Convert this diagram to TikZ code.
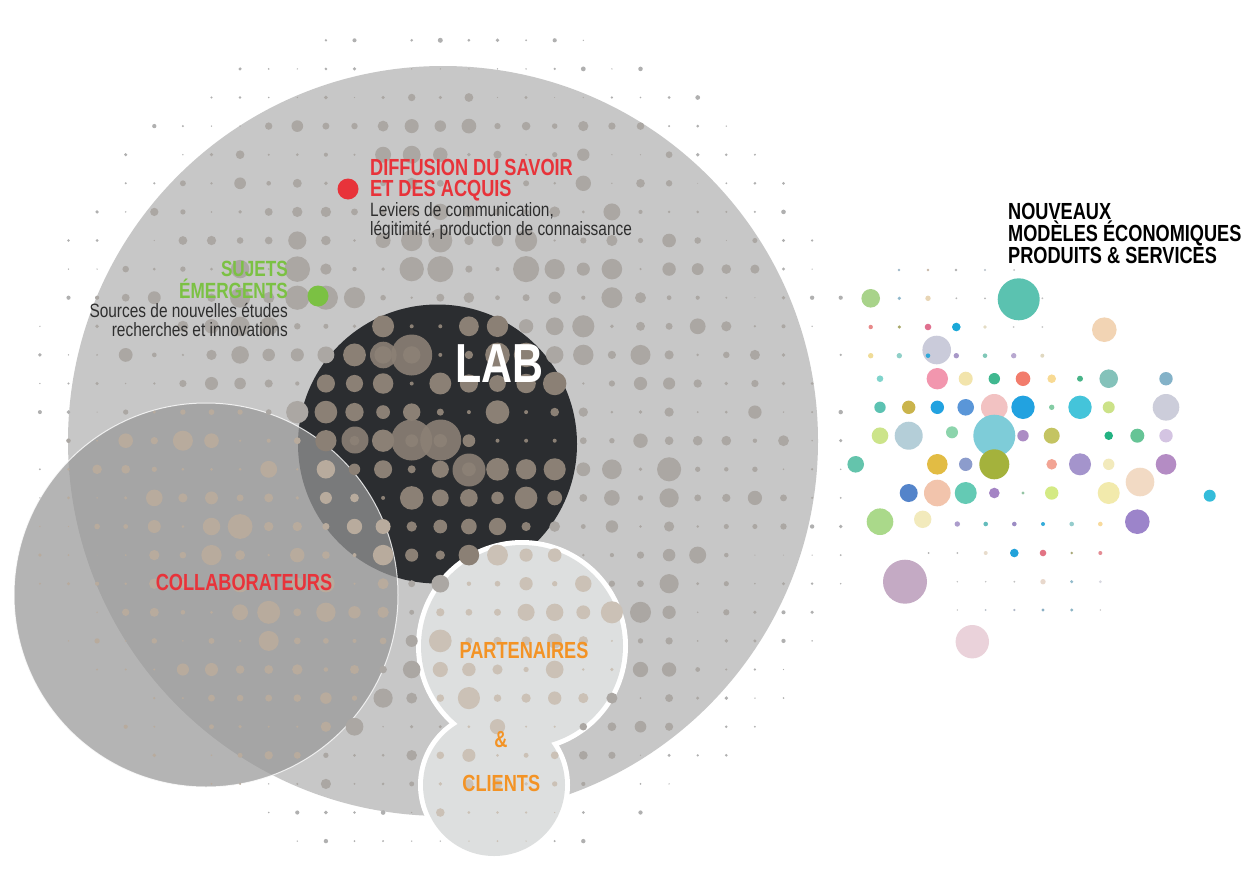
\documentclass[tikz,border=0pt]{standalone}
\usepackage{fontspec}
\setmainfont{Liberation Sans}
\newfontfamily\condbold[FakeStretch=0.78]{Liberation Sans}
\newfontfamily\condreg[FakeStretch=0.80]{Liberation Sans}
\definecolor{biggray}{HTML}{C7C7C7}
\definecolor{labdark}{HTML}{2B2D30}
\definecolor{collabfill}{HTML}{989898}
\definecolor{partfill}{HTML}{DDDFDF}
\definecolor{dotout}{HTML}{B0B0B0}
\definecolor{dotgray}{HTML}{ABA7A3}
\definecolor{dotlab}{HTML}{8B8075}
\definecolor{dotcollab}{HTML}{B8AB9D}
\definecolor{dotpart}{HTML}{CBC1B6}
\definecolor{tred}{HTML}{E8333A}
\definecolor{tgreen}{HTML}{7BC143}
\definecolor{torange}{HTML}{F39325}
\definecolor{tdark}{HTML}{2E2E2E}
\tikzset{
  hb/.style={font={\condbold\bfseries\fontsize{23.3}{26}\selectfont}, inner sep=0pt},
  hbg/.style={font={\condbold\bfseries\fontsize{22}{26}\selectfont}, inner sep=0pt},
  hr/.style={font={\condreg\fontsize{19.3}{22}\selectfont}, text=tdark, inner sep=0pt},
  labtext/.style={font={\condbold\bfseries\fontsize{55}{60}\selectfont}, text=white, inner sep=0pt, anchor=base west}
}
\begin{document}
\begin{tikzpicture}[x=1pt,y=-1pt]
\useasboundingbox (0,0) rectangle (1244,870);
\fill[white] (0,0) rectangle (1244,870);
% main circles
\fill[biggray] (443,441) circle (375);
\fill[labdark] (437.5,444) circle (139.5);
\fill[collabfill, fill opacity=0.72] (206,595) circle (192);
\draw[white, line width=1, opacity=0.8] (206,595) circle (192);
% partenaires & clients
\fill[white] (522,646) circle (106);
\fill[white] (494,785) circle (76);
\fill[partfill] (522,646) circle (101);
\fill[partfill] (494,785) circle (71);
% dot grid
\pgfmathsetseed{7}
\foreach \i in {0,...,29}{%
 \foreach \j in {1,...,29}{%
  \pgfmathsetmacro\px{11.3+28.6*\i}%
  \pgfmathsetmacro\py{11.7+28.6*\j}%
  \pgfmathsetmacro\dL{100*veclen((\px-437.5)/100,(\py-444)/100)}%
  \pgfmathsetmacro\dB{100*veclen((\px-443)/100,(\py-441)/100)}%
  \pgfmathsetmacro\dC{100*veclen((\px-206)/100,(\py-595)/100)}%
  \pgfmathsetmacro\dPa{100*veclen((\px-522)/100,(\py-646)/100)}%
  \pgfmathsetmacro\dPb{100*veclen((\px-494)/100,(\py-785)/100)}%
  \pgfmathsetmacro\dotu{rnd}%
  \pgfmathsetmacro\dotv{rnd}%
  \pgfmathsetmacro\dotf{min(1,max(0.3,1-(\dL-220)/230))}%
  \pgfmathsetmacro\dotr{\dL<140 ? (\dotv<0.1 ? 2 : 3+10*\dotu) : (\dB<372 ? (1.2+12*\dotu*sqrt(\dotu))*\dotf : ((\dB<430 && \dotv>0.15) ? 0.7+2.0*\dotu*\dotu : 0))}%
  \pgfmathtruncatemacro\reg{(\dPa<101 || \dPb<71) ? 4 : (\dC<192 ? 3 : (\dL<139.5 ? 2 : (\dB<375 ? 1 : 0)))}%
  \ifcase\reg\relax \def\dcol{dotout}\or \def\dcol{dotgray}\or \def\dcol{dotlab}\or \def\dcol{dotcollab}\or \def\dcol{dotpart}\fi
  \ifdim\dotr pt>0.4pt \fill[\dcol] (\px,\py) circle (\dotr);\fi
 }}
% a few large dots in the lab
\foreach \x/\y/\rr in {411.7/355/20.5, 411.7/440/20.5, 440.7/440/20.5, 469/470/16.5, 383.3/355/13.3, 355/440/13.5}{
  \fill[dotlab, fill opacity=0.9] (\x,\y) circle (\rr);
}
% coloured cluster
\foreach \x/\y/\rr/\c in {
899/270/1.3/A0B8C8, 928/270/1.3/C8B8A8, 956/270/1.3/B0B0B0, 985/270/1.2/B8C0C8, 1014/270/1/C0C0C0,
870.7/298.3/9.3/A8D38A, 899.3/298.3/1.8/8FB8CC, 928/298.3/2.7/E8D5B5, 956.3/298.3/1/B8B8B8, 985/298.3/1/B8B8B8,
1018.7/299.3/21/5BC2B0, 1042.3/298.3/1/C0C0C0,
870.7/327/2.2/E88A8A, 899.3/327/1.7/A8A868, 928/327/3.3/E0708F, 956.3/327/4.3/1AA8D8, 985/327/1.8/E4DCC4,
1013.7/327/1/C8C8C8, 1042.3/327/1/C8C8C8, 1104.3/329.7/12.3/F2D4B4,
870.7/355.7/2.7/F0DC98, 899.3/355.7/2.7/90D0C8, 936.7/350/14.3/CACBDA, 928/355.7/2.3/30A8D8, 956.3/355.7/2.7/A898C8,
985/355.7/2.3/80C8B8, 1013.7/355.7/2.7/B8A8D0, 1042.3/355.7/2/E0D8C0,
880/378.7/3.3/80D4CC, 937.3/378.7/10.7/F296AE, 965.7/378.7/7/F2E4AC, 994.3/378.7/5.7/40B890, 1023/378.7/7.3/F27C6C,
1051.7/378.7/4.3/F8DA94, 1080/378.7/3/48B488, 1108.7/378.7/9.3/84C2BA, 1166/378.7/6.7/84B2C8,
880/407.3/5.7/5CC2B2, 908.7/407.3/6.7/CAB44C, 937.3/407.3/6.7/22A2E0, 965.7/407.3/8.3/5A96D8, 994.3/407.3/13.3/F2C2C2,
1023/407.3/11.7/22A2E0, 1051.7/407.3/2.7/84CCA4, 1080/407.3/11.7/44C4DA, 1108.7/407.3/6/CCE288, 1166/407.3/13.3/CCCDDA,
880/435.7/8.3/CCE48A, 908.7/435.7/14/B4CED8, 952/432.3/6/8CD4AC, 994.3/435.7/21/7ECCD8, 1023/435.7/5.7/AC8CC4,
1051.7/435.7/8/C4C462, 1108.7/435.7/4.3/22B282, 1137.3/435.7/7/66C496, 1166/435.7/6.7/D4C4E2,
855.7/464.3/8.3/64C4AC, 937.3/464.3/10.3/E2BC44, 965.7/464.3/6.7/8C9CCC, 994.3/464.3/15/A4B23C, 1051.7/464.3/5.3/F2A494,
1080/464.3/11/A494CC, 1108.7/464.3/5.7/F2EABC, 1166/464.3/10.3/B48CC4,
908.7/493/9/5484CA, 937.3/493/13.3/F2C4AC, 965.7/493/11/64CAB4, 994.3/493/5.3/A484C4, 1023/493/1.7/94C4A4,
1051.7/493/6.7/D4EA84, 1108.7/493/11/F2EAAC, 1140/482/14.3/F2DAC4, 1209.7/495.7/6/34BCDA,
880/521.7/13.3/AAD98A, 922.7/519.3/8.7/F2EABC, 957.3/524/2.7/AC9CCC, 985.7/524/2.3/64BCBC, 1014.3/524/2.3/9C8CC4,
1043/524/2/34ACDA, 1071.7/524/2.3/94CCCC, 1100.3/524/2.3/F8DA9C, 1137.3/521.7/12.3/9C84CA,
928.7/553/1/B0B0B0, 957.3/553/1/B8B8B8, 985.7/553/2/E8DCCC, 1014.3/553/4.3/22A2DA, 1043/553/3.3/E27484,
1071.7/553/1.3/A8A878, 1100.3/553/2/E48C94,
905/581.7/22/C4AAC4, 957.3/581.7/0.8/C0C0C0, 985.7/581.7/0.8/C0C0C0, 1014.3/581.7/1/C0C0C0, 1043/581.7/2.7/E8D8CC,
1071.7/581.7/1.7/94BCCC, 1100.3/581.7/1.5/D8D8E0,
957.3/610/0.8/C0C0C0, 985.7/610/1/B8C0C8, 1014.3/610/1.2/B0B8C8, 1043/610/1.7/8CB0C4, 1071.7/610/1.7/8CB4C4,
1100.3/610/0.8/C0C0C0, 972.3/641.7/16.7/EAD2DA}{
  \definecolor{cl}{HTML}{\c}
  \fill[cl] (\x,\y) circle (\rr);
}
% marker dots
\fill[tred] (348,189) circle (10.5);
\fill[tgreen] (318,296) circle (10.5);
% texts
\node[hb, text=tred, anchor=base west] (diff1) at (370,175) {DIFFUSION DU SAVOIR};
\node[hb, text=tred, anchor=base west] (diff2) at (370,196.5) {ET DES ACQUIS};
\node[hr, anchor=base west] (diff3) at (370,216.5) {Leviers de communication,};
\node[hr, anchor=base west] (diff4) at (370,235.5) {légitimité, production de connaissance};
\node[hbg, text=tgreen, anchor=base east] (suj1) at (288,276) {SUJETS};
\node[hbg, text=tgreen, anchor=base east] (suj2) at (288,298) {ÉMERGENTS};
\node[hr, anchor=base east] (suj3) at (288,317.5) {Sources de nouvelles études};
\node[hr, anchor=base east] (suj4) at (288,336.5) {recherches et innovations};
\node[labtext] (lab) at (455,382.7) {LAB};
\node[hb, text=tred, anchor=base] (collab) at (244,590) {COLLABORATEURS};
\node[hb, text=torange, anchor=base] (part) at (524,658.5) {PARTENAIRES};
\node[hb, text=torange, anchor=base] (amp) at (501,747) {\&};
\node[hb, text=torange, anchor=base] (cli) at (501.3,791.7) {CLIENTS};
\node[hb, text=black, anchor=base west] (nm1) at (1008,219.3) {NOUVEAUX};
\node[hb, text=black, anchor=base west] (nm2) at (1008,241) {MODÈLES ÉCONOMIQUES};
\node[hb, text=black, anchor=base west] (nm3) at (1008,263) {PRODUITS \& SERVICES};
\end{tikzpicture}
\end{document}
